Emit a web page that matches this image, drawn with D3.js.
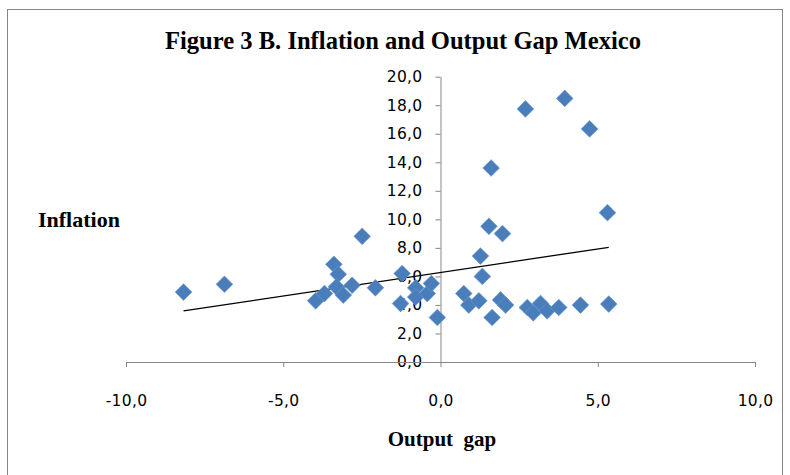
<!DOCTYPE html>
<html><head><meta charset="utf-8">
<script src="https://cdn.jsdelivr.net/npm/d3@7"></script>
<style>
html,body{margin:0;padding:0;background:#fff;}
svg{display:block;}
</style></head>
<body>
<svg id="chart" width="790" height="475"></svg>
<script>
const outputGap = [-8.17, -6.87, -3.97, -3.69, -3.39, -3.25, -3.31, -3.09, -2.81, -2.07, -2.49, -1.22, -1.27, -0.79, -0.79, -0.42, -0.29, -0.10, 0.74, 0.90, 1.22, 1.33, 1.27, 1.64, 1.91, 2.07, 2.76, 2.95, 3.18, 3.39, 3.76, 4.45, 5.35, 1.54, 1.97, 1.61, 2.70, 3.95, 4.74, 5.31];
const inflation = [4.9, 5.45, 4.29, 4.8, 6.85, 6.15, 5.27, 4.69, 5.38, 5.2, 8.81, 6.2, 4.1, 5.2, 4.55, 4.8, 5.5, 3.12, 4.8, 3.99, 4.29, 6.0, 7.43, 3.12, 4.35, 3.99, 3.82, 3.45, 4.1, 3.59, 3.82, 3.99, 4.06, 9.51, 9.0, 13.6, 17.74, 18.48, 16.34, 10.47];
const xTicks = [-10, -5, 0, 5, 10];
const yTicks = [0, 2, 4, 6, 8, 10, 12, 14, 16, 18, 20];
const trendSlope = 0.33;
const trendIntercept = 6.276;
const titleText = "Figure 3 B. Inflation and Output Gap Mexico";
const xTitle = "Output  gap";
const yTitle = "Inflation";

const fmt = v => d3.format(".1f")(v).replace(".", ",").replace("−", "-");
const svg = d3.select("#chart");
const plot = {left: 126, right: 755, top: 76.7, bottom: 362};

svg.append("rect").attr("x", 7.5).attr("y", 9.5).attr("width", 775).attr("height", 480)
  .attr("fill", "#fff").attr("stroke", "#868686").attr("stroke-width", 1);

const x = d3.scaleLinear().domain([-10, 10]).range([plot.left, plot.right]);
const y = d3.scaleLinear().domain([0, 20]).range([plot.bottom, plot.top]);

const yAxis = svg.append("g").attr("transform", `translate(${x(0)},0)`)
  .call(d3.axisLeft(y).tickValues(yTicks).tickFormat(fmt).tickSizeInner(5).tickSizeOuter(0).tickPadding(13));
const xAxis = svg.append("g").attr("transform", `translate(0,${y(0)})`)
  .call(d3.axisBottom(x).tickValues(xTicks).tickFormat(fmt).tickSizeInner(5).tickSizeOuter(0).tickPadding(28));

[xAxis, yAxis].forEach(g => {
  g.select(".domain").attr("stroke", "#868686").attr("stroke-width", 1);
  g.selectAll(".tick line").attr("stroke", "#868686");
  g.selectAll(".tick text").attr("fill", "#000")
    .style("font-family", "'DejaVu Sans', sans-serif").style("font-size", "15.5px")
    .style("letter-spacing", "0.3px");
});

const xs = d3.extent(outputGap);
svg.append("line")
  .attr("x1", x(xs[0])).attr("y1", y(trendIntercept + trendSlope * xs[0]))
  .attr("x2", x(xs[1])).attr("y2", y(trendIntercept + trendSlope * xs[1]))
  .attr("stroke", "#000").attr("stroke-width", 1.3);

const pts = outputGap.map((v, i) => ({x: v, y: inflation[i]}));
const sym = d3.symbol().type(d3.symbolSquare).size(140);
svg.append("g").selectAll("path").data(pts).join("path")
  .attr("d", sym)
  .attr("transform", d => `translate(${x(d.x)},${y(d.y)}) rotate(45)`)
  .attr("fill", "#4A7EBB").attr("stroke", "#6D97CC").attr("stroke-width", 0.6);

svg.append("text").attr("x", 403).attr("y", 49).attr("text-anchor", "middle")
  .attr("textLength", 476).attr("lengthAdjust", "spacingAndGlyphs")
  .style("font-family", "'Liberation Serif', 'Times New Roman', serif").style("font-weight", "bold")
  .style("font-size", "24.5px").text(titleText);

svg.append("text").attr("x", 38).attr("y", 227.3)
  .style("font-family", "'Liberation Serif', 'Times New Roman', serif").style("font-weight", "bold")
  .style("font-size", "22px").text(yTitle);

svg.append("text").attr("x", 442).attr("y", 446).attr("text-anchor", "middle")
  .attr("xml:space", "preserve").style("white-space", "pre")
  .style("font-family", "'Liberation Serif', 'Times New Roman', serif").style("font-weight", "bold")
  .style("font-size", "21px").text(xTitle);
</script>
</body></html>
